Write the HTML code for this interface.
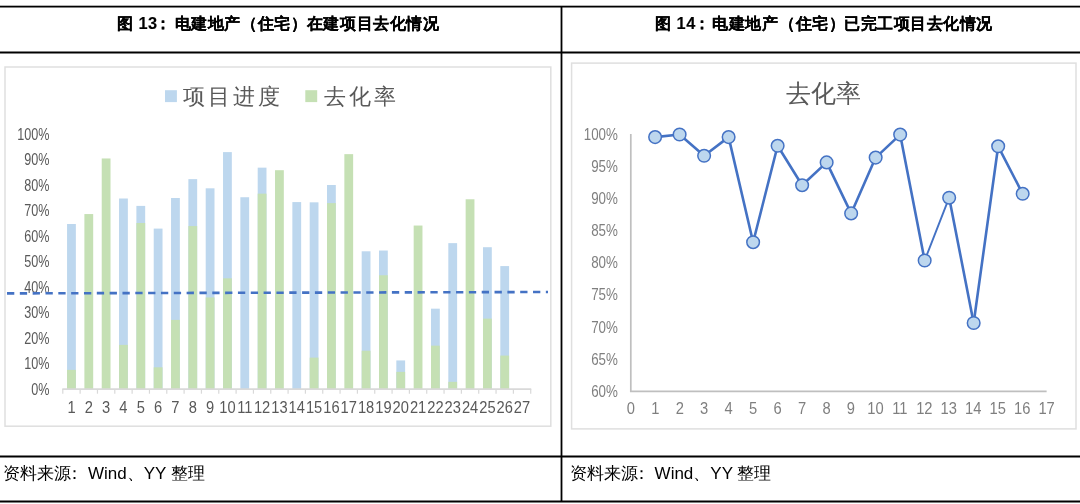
<!DOCTYPE html>
<html><head><meta charset="utf-8"><style>
html,body{margin:0;padding:0;background:#fff;}
body{width:1080px;height:504px;position:relative;overflow:hidden;font-family:"Liberation Sans", sans-serif;}
.abs{position:absolute;}
.hl{position:absolute;left:0;width:1080px;background:#000;}
.vl{position:absolute;background:#000;}
.ttl{position:absolute;top:11.6px;-webkit-text-stroke:0.12px #000;font-weight:bold;font-size:16.4px;letter-spacing:0.55px;color:#000;white-space:nowrap;line-height:22px;}
.cl{margin-left:3px;margin-right:10px;}
.src{position:absolute;top:462px;font-size:17px;color:#000;white-space:nowrap;line-height:24px;}
svg text{font-family:"Liberation Sans", sans-serif;filter:grayscale(1);}
.ttl,.src{filter:grayscale(1);}
.lt{font-size:15.8px;fill:#595959;}
.ra{font-size:15.3px;fill:#7f7f7f;}
.lg{font-size:22px;fill:#595959;letter-spacing:3px;font-weight:300;}
.rt{font-size:25px;fill:#595959;font-weight:300;}
</style></head><body>
<svg class="abs" style="left:0;top:0" width="1080" height="504" viewBox="0 0 1080 504">
<rect x="0" y="5.7" width="1080" height="1.8" fill="#000"/>
<rect x="0" y="51.5" width="1080" height="2" fill="#000"/>
<rect x="0" y="455.5" width="1080" height="2" fill="#000"/>
<rect x="0" y="500.5" width="1080" height="2" fill="#000"/>
<rect x="560.6" y="6" width="1.8" height="495.5" fill="#000"/>
</svg>
<div class="ttl" style="left:116.9px">图</div><div class="ttl" style="left:138.4px">13</div><div class="ttl" style="left:154.7px">：</div><div class="ttl" style="left:174.5px">电建地产</div><div class="ttl" style="left:241.4px">（住宅）</div><div class="ttl" style="left:306.9px">在建项目去化情况</div>
<div class="ttl" style="left:655.3px">图</div><div class="ttl" style="left:676.5px">14</div><div class="ttl" style="left:693.8px">：</div><div class="ttl" style="left:712.3px">电建地产</div><div class="ttl" style="left:779.4px">（住宅）</div><div class="ttl" style="left:844px">已完工项目去化情况</div>
<svg class="abs" style="left:0;top:0" width="561" height="504" viewBox="0 0 561 504">
<rect x="5" y="67" width="545.8" height="359.2" fill="none" stroke="#dfdfdf" stroke-width="1.5"/>
<rect x="67.06" y="224.00" width="8.8" height="165.10" fill="#bdd7ee"/>
<rect x="67.06" y="369.87" width="8.8" height="19.24" fill="#c5e0b4"/>
<rect x="84.39" y="214.06" width="8.8" height="175.04" fill="#c5e0b4"/>
<rect x="101.72" y="158.47" width="8.8" height="230.63" fill="#c5e0b4"/>
<rect x="119.05" y="198.50" width="8.8" height="190.60" fill="#bdd7ee"/>
<rect x="119.05" y="344.88" width="8.8" height="44.23" fill="#c5e0b4"/>
<rect x="136.38" y="205.90" width="8.8" height="183.20" fill="#bdd7ee"/>
<rect x="136.38" y="222.99" width="8.8" height="166.12" fill="#c5e0b4"/>
<rect x="153.72" y="228.59" width="8.8" height="160.51" fill="#bdd7ee"/>
<rect x="153.72" y="367.31" width="8.8" height="21.79" fill="#c5e0b4"/>
<rect x="171.04" y="198.00" width="8.8" height="191.10" fill="#bdd7ee"/>
<rect x="171.04" y="319.88" width="8.8" height="69.22" fill="#c5e0b4"/>
<rect x="188.37" y="179.13" width="8.8" height="209.97" fill="#bdd7ee"/>
<rect x="188.37" y="226.05" width="8.8" height="163.06" fill="#c5e0b4"/>
<rect x="205.70" y="188.31" width="8.8" height="200.80" fill="#bdd7ee"/>
<rect x="205.70" y="297.44" width="8.8" height="91.66" fill="#c5e0b4"/>
<rect x="223.03" y="152.10" width="8.8" height="237.00" fill="#bdd7ee"/>
<rect x="223.03" y="278.32" width="8.8" height="110.78" fill="#c5e0b4"/>
<rect x="240.36" y="197.23" width="8.8" height="191.87" fill="#bdd7ee"/>
<rect x="257.69" y="167.65" width="8.8" height="221.45" fill="#bdd7ee"/>
<rect x="257.69" y="193.66" width="8.8" height="195.44" fill="#c5e0b4"/>
<rect x="275.02" y="170.20" width="8.8" height="218.90" fill="#c5e0b4"/>
<rect x="292.36" y="202.08" width="8.8" height="187.03" fill="#bdd7ee"/>
<rect x="309.69" y="202.33" width="8.8" height="186.77" fill="#bdd7ee"/>
<rect x="309.69" y="357.62" width="8.8" height="31.48" fill="#c5e0b4"/>
<rect x="327.01" y="184.99" width="8.8" height="204.11" fill="#bdd7ee"/>
<rect x="327.01" y="203.10" width="8.8" height="186.00" fill="#c5e0b4"/>
<rect x="344.35" y="154.14" width="8.8" height="234.97" fill="#c5e0b4"/>
<rect x="361.68" y="251.29" width="8.8" height="137.81" fill="#bdd7ee"/>
<rect x="361.68" y="350.74" width="8.8" height="38.36" fill="#c5e0b4"/>
<rect x="379.00" y="250.53" width="8.8" height="138.58" fill="#bdd7ee"/>
<rect x="379.00" y="275.26" width="8.8" height="113.84" fill="#c5e0b4"/>
<rect x="396.33" y="360.43" width="8.8" height="28.67" fill="#bdd7ee"/>
<rect x="396.33" y="371.90" width="8.8" height="17.20" fill="#c5e0b4"/>
<rect x="413.67" y="225.54" width="8.8" height="163.56" fill="#c5e0b4"/>
<rect x="431.00" y="308.67" width="8.8" height="80.44" fill="#bdd7ee"/>
<rect x="431.00" y="345.64" width="8.8" height="43.46" fill="#c5e0b4"/>
<rect x="448.32" y="243.13" width="8.8" height="145.97" fill="#bdd7ee"/>
<rect x="448.32" y="381.85" width="8.8" height="7.25" fill="#c5e0b4"/>
<rect x="465.65" y="199.27" width="8.8" height="189.83" fill="#c5e0b4"/>
<rect x="482.99" y="247.21" width="8.8" height="141.89" fill="#bdd7ee"/>
<rect x="482.99" y="318.61" width="8.8" height="70.49" fill="#c5e0b4"/>
<rect x="500.31" y="266.08" width="8.8" height="123.02" fill="#bdd7ee"/>
<rect x="500.31" y="355.58" width="8.8" height="33.52" fill="#c5e0b4"/>
<line x1="62.3" y1="389.1" x2="531.21" y2="389.1" stroke="#d9d9d9" stroke-width="1.7"/>
<line x1="62.80" y1="389.1" x2="62.80" y2="393.70000000000005" stroke="#d9d9d9" stroke-width="1.2"/>
<line x1="80.13" y1="389.1" x2="80.13" y2="393.70000000000005" stroke="#d9d9d9" stroke-width="1.2"/>
<line x1="97.46" y1="389.1" x2="97.46" y2="393.70000000000005" stroke="#d9d9d9" stroke-width="1.2"/>
<line x1="114.79" y1="389.1" x2="114.79" y2="393.70000000000005" stroke="#d9d9d9" stroke-width="1.2"/>
<line x1="132.12" y1="389.1" x2="132.12" y2="393.70000000000005" stroke="#d9d9d9" stroke-width="1.2"/>
<line x1="149.45" y1="389.1" x2="149.45" y2="393.70000000000005" stroke="#d9d9d9" stroke-width="1.2"/>
<line x1="166.78" y1="389.1" x2="166.78" y2="393.70000000000005" stroke="#d9d9d9" stroke-width="1.2"/>
<line x1="184.11" y1="389.1" x2="184.11" y2="393.70000000000005" stroke="#d9d9d9" stroke-width="1.2"/>
<line x1="201.44" y1="389.1" x2="201.44" y2="393.70000000000005" stroke="#d9d9d9" stroke-width="1.2"/>
<line x1="218.77" y1="389.1" x2="218.77" y2="393.70000000000005" stroke="#d9d9d9" stroke-width="1.2"/>
<line x1="236.10" y1="389.1" x2="236.10" y2="393.70000000000005" stroke="#d9d9d9" stroke-width="1.2"/>
<line x1="253.43" y1="389.1" x2="253.43" y2="393.70000000000005" stroke="#d9d9d9" stroke-width="1.2"/>
<line x1="270.76" y1="389.1" x2="270.76" y2="393.70000000000005" stroke="#d9d9d9" stroke-width="1.2"/>
<line x1="288.09" y1="389.1" x2="288.09" y2="393.70000000000005" stroke="#d9d9d9" stroke-width="1.2"/>
<line x1="305.42" y1="389.1" x2="305.42" y2="393.70000000000005" stroke="#d9d9d9" stroke-width="1.2"/>
<line x1="322.75" y1="389.1" x2="322.75" y2="393.70000000000005" stroke="#d9d9d9" stroke-width="1.2"/>
<line x1="340.08" y1="389.1" x2="340.08" y2="393.70000000000005" stroke="#d9d9d9" stroke-width="1.2"/>
<line x1="357.41" y1="389.1" x2="357.41" y2="393.70000000000005" stroke="#d9d9d9" stroke-width="1.2"/>
<line x1="374.74" y1="389.1" x2="374.74" y2="393.70000000000005" stroke="#d9d9d9" stroke-width="1.2"/>
<line x1="392.07" y1="389.1" x2="392.07" y2="393.70000000000005" stroke="#d9d9d9" stroke-width="1.2"/>
<line x1="409.40" y1="389.1" x2="409.40" y2="393.70000000000005" stroke="#d9d9d9" stroke-width="1.2"/>
<line x1="426.73" y1="389.1" x2="426.73" y2="393.70000000000005" stroke="#d9d9d9" stroke-width="1.2"/>
<line x1="444.06" y1="389.1" x2="444.06" y2="393.70000000000005" stroke="#d9d9d9" stroke-width="1.2"/>
<line x1="461.39" y1="389.1" x2="461.39" y2="393.70000000000005" stroke="#d9d9d9" stroke-width="1.2"/>
<line x1="478.72" y1="389.1" x2="478.72" y2="393.70000000000005" stroke="#d9d9d9" stroke-width="1.2"/>
<line x1="496.05" y1="389.1" x2="496.05" y2="393.70000000000005" stroke="#d9d9d9" stroke-width="1.2"/>
<line x1="513.38" y1="389.1" x2="513.38" y2="393.70000000000005" stroke="#d9d9d9" stroke-width="1.2"/>
<line x1="530.71" y1="389.1" x2="530.71" y2="393.70000000000005" stroke="#d9d9d9" stroke-width="1.2"/>
<text transform="translate(49.6 394.90) scale(0.8 1)" text-anchor="end" class="lt">0%</text>
<text transform="translate(49.6 369.40) scale(0.8 1)" text-anchor="end" class="lt">10%</text>
<text transform="translate(49.6 343.90) scale(0.8 1)" text-anchor="end" class="lt">20%</text>
<text transform="translate(49.6 318.40) scale(0.8 1)" text-anchor="end" class="lt">30%</text>
<text transform="translate(49.6 292.90) scale(0.8 1)" text-anchor="end" class="lt">40%</text>
<text transform="translate(49.6 267.40) scale(0.8 1)" text-anchor="end" class="lt">50%</text>
<text transform="translate(49.6 241.90) scale(0.8 1)" text-anchor="end" class="lt">60%</text>
<text transform="translate(49.6 216.40) scale(0.8 1)" text-anchor="end" class="lt">70%</text>
<text transform="translate(49.6 190.90) scale(0.8 1)" text-anchor="end" class="lt">80%</text>
<text transform="translate(49.6 165.40) scale(0.8 1)" text-anchor="end" class="lt">90%</text>
<text transform="translate(49.6 139.90) scale(0.8 1)" text-anchor="end" class="lt">100%</text>
<text transform="translate(71.47 412.5) scale(0.93 1)" text-anchor="middle" class="lt">1</text>
<text transform="translate(88.79 412.5) scale(0.93 1)" text-anchor="middle" class="lt">2</text>
<text transform="translate(106.12 412.5) scale(0.93 1)" text-anchor="middle" class="lt">3</text>
<text transform="translate(123.45 412.5) scale(0.93 1)" text-anchor="middle" class="lt">4</text>
<text transform="translate(140.78 412.5) scale(0.93 1)" text-anchor="middle" class="lt">5</text>
<text transform="translate(158.12 412.5) scale(0.93 1)" text-anchor="middle" class="lt">6</text>
<text transform="translate(175.44 412.5) scale(0.93 1)" text-anchor="middle" class="lt">7</text>
<text transform="translate(192.77 412.5) scale(0.93 1)" text-anchor="middle" class="lt">8</text>
<text transform="translate(210.10 412.5) scale(0.93 1)" text-anchor="middle" class="lt">9</text>
<text transform="translate(227.44 412.5) scale(0.93 1)" text-anchor="middle" class="lt">10</text>
<text transform="translate(244.76 412.5) scale(0.93 1)" text-anchor="middle" class="lt">11</text>
<text transform="translate(262.09 412.5) scale(0.93 1)" text-anchor="middle" class="lt">12</text>
<text transform="translate(279.42 412.5) scale(0.93 1)" text-anchor="middle" class="lt">13</text>
<text transform="translate(296.75 412.5) scale(0.93 1)" text-anchor="middle" class="lt">14</text>
<text transform="translate(314.08 412.5) scale(0.93 1)" text-anchor="middle" class="lt">15</text>
<text transform="translate(331.41 412.5) scale(0.93 1)" text-anchor="middle" class="lt">16</text>
<text transform="translate(348.75 412.5) scale(0.93 1)" text-anchor="middle" class="lt">17</text>
<text transform="translate(366.07 412.5) scale(0.93 1)" text-anchor="middle" class="lt">18</text>
<text transform="translate(383.40 412.5) scale(0.93 1)" text-anchor="middle" class="lt">19</text>
<text transform="translate(400.73 412.5) scale(0.93 1)" text-anchor="middle" class="lt">20</text>
<text transform="translate(418.06 412.5) scale(0.93 1)" text-anchor="middle" class="lt">21</text>
<text transform="translate(435.39 412.5) scale(0.93 1)" text-anchor="middle" class="lt">22</text>
<text transform="translate(452.72 412.5) scale(0.93 1)" text-anchor="middle" class="lt">23</text>
<text transform="translate(470.05 412.5) scale(0.93 1)" text-anchor="middle" class="lt">24</text>
<text transform="translate(487.38 412.5) scale(0.93 1)" text-anchor="middle" class="lt">25</text>
<text transform="translate(504.71 412.5) scale(0.93 1)" text-anchor="middle" class="lt">26</text>
<text transform="translate(522.04 412.5) scale(0.93 1)" text-anchor="middle" class="lt">27</text>
<line x1="7" y1="293.4" x2="548" y2="292.0" stroke="#4472c4" stroke-width="2.6" stroke-dasharray="7.3 5.53"/>
<rect x="165" y="90.2" width="11.9" height="11.9" fill="#bdd7ee"/>
<rect x="305.3" y="90.2" width="11.9" height="11.9" fill="#c5e0b4"/>
<text x="183" y="104" class="lg">项目进度</text>
<text x="323.5" y="104" class="lg">去化率</text>
</svg>
<svg class="abs" style="left:0;top:0" width="1080" height="504" viewBox="0 0 1080 504">
<rect x="571.6" y="63.1" width="504.4" height="365.8" fill="none" stroke="#dfdfdf" stroke-width="1.5"/>
<text x="823.2" y="102" text-anchor="middle" class="rt">去化率</text>
<line x1="630.8" y1="134.1" x2="630.8" y2="391.3" stroke="#bfbfbf" stroke-width="1.7"/>
<line x1="629.9499999999999" y1="391.3" x2="1046.62" y2="391.3" stroke="#bfbfbf" stroke-width="1.7"/>
<text transform="translate(617.9 139.90) scale(0.82 1)" text-anchor="end" class="ra" style="font-size:16.3px">100%</text>
<text transform="translate(617.9 172.00) scale(0.82 1)" text-anchor="end" class="ra" style="font-size:16.3px">95%</text>
<text transform="translate(617.9 204.10) scale(0.82 1)" text-anchor="end" class="ra" style="font-size:16.3px">90%</text>
<text transform="translate(617.9 236.20) scale(0.82 1)" text-anchor="end" class="ra" style="font-size:16.3px">85%</text>
<text transform="translate(617.9 268.30) scale(0.82 1)" text-anchor="end" class="ra" style="font-size:16.3px">80%</text>
<text transform="translate(617.9 300.40) scale(0.82 1)" text-anchor="end" class="ra" style="font-size:16.3px">75%</text>
<text transform="translate(617.9 332.50) scale(0.82 1)" text-anchor="end" class="ra" style="font-size:16.3px">70%</text>
<text transform="translate(617.9 364.60) scale(0.82 1)" text-anchor="end" class="ra" style="font-size:16.3px">65%</text>
<text transform="translate(617.9 396.70) scale(0.82 1)" text-anchor="end" class="ra" style="font-size:16.3px">60%</text>
<text transform="translate(630.80 414.1) scale(0.92 1)" text-anchor="middle" class="ra" style="font-size:16px">0</text>
<text transform="translate(655.26 414.1) scale(0.92 1)" text-anchor="middle" class="ra" style="font-size:16px">1</text>
<text transform="translate(679.72 414.1) scale(0.92 1)" text-anchor="middle" class="ra" style="font-size:16px">2</text>
<text transform="translate(704.18 414.1) scale(0.92 1)" text-anchor="middle" class="ra" style="font-size:16px">3</text>
<text transform="translate(728.64 414.1) scale(0.92 1)" text-anchor="middle" class="ra" style="font-size:16px">4</text>
<text transform="translate(753.10 414.1) scale(0.92 1)" text-anchor="middle" class="ra" style="font-size:16px">5</text>
<text transform="translate(777.56 414.1) scale(0.92 1)" text-anchor="middle" class="ra" style="font-size:16px">6</text>
<text transform="translate(802.02 414.1) scale(0.92 1)" text-anchor="middle" class="ra" style="font-size:16px">7</text>
<text transform="translate(826.48 414.1) scale(0.92 1)" text-anchor="middle" class="ra" style="font-size:16px">8</text>
<text transform="translate(850.94 414.1) scale(0.92 1)" text-anchor="middle" class="ra" style="font-size:16px">9</text>
<text transform="translate(875.40 414.1) scale(0.92 1)" text-anchor="middle" class="ra" style="font-size:16px">10</text>
<text transform="translate(899.86 414.1) scale(0.92 1)" text-anchor="middle" class="ra" style="font-size:16px">11</text>
<text transform="translate(924.32 414.1) scale(0.92 1)" text-anchor="middle" class="ra" style="font-size:16px">12</text>
<text transform="translate(948.78 414.1) scale(0.92 1)" text-anchor="middle" class="ra" style="font-size:16px">13</text>
<text transform="translate(973.24 414.1) scale(0.92 1)" text-anchor="middle" class="ra" style="font-size:16px">14</text>
<text transform="translate(997.70 414.1) scale(0.92 1)" text-anchor="middle" class="ra" style="font-size:16px">15</text>
<text transform="translate(1022.16 414.1) scale(0.92 1)" text-anchor="middle" class="ra" style="font-size:16px">16</text>
<text transform="translate(1046.62 414.1) scale(0.92 1)" text-anchor="middle" class="ra" style="font-size:16px">17</text>
<line x1="655.11" y1="137.10" x2="679.61" y2="134.50" stroke="#4472c4" stroke-width="2.6" stroke-linecap="round"/>
<line x1="679.61" y1="134.50" x2="704.12" y2="155.80" stroke="#4472c4" stroke-width="2.6" stroke-linecap="round"/>
<line x1="704.12" y1="155.80" x2="728.62" y2="137.10" stroke="#4472c4" stroke-width="2.6" stroke-linecap="round"/>
<line x1="728.62" y1="137.10" x2="753.12" y2="242.20" stroke="#4472c4" stroke-width="2.6" stroke-linecap="round"/>
<line x1="753.12" y1="242.20" x2="777.63" y2="145.80" stroke="#4472c4" stroke-width="2.6" stroke-linecap="round"/>
<line x1="777.63" y1="145.80" x2="802.13" y2="185.20" stroke="#4472c4" stroke-width="2.6" stroke-linecap="round"/>
<line x1="802.13" y1="185.20" x2="826.64" y2="162.40" stroke="#4472c4" stroke-width="2.6" stroke-linecap="round"/>
<line x1="826.64" y1="162.40" x2="851.14" y2="213.40" stroke="#4472c4" stroke-width="2.6" stroke-linecap="round"/>
<line x1="851.14" y1="213.40" x2="875.65" y2="157.60" stroke="#4472c4" stroke-width="2.6" stroke-linecap="round"/>
<line x1="875.65" y1="157.60" x2="900.15" y2="134.60" stroke="#4472c4" stroke-width="2.6" stroke-linecap="round"/>
<line x1="900.15" y1="134.60" x2="924.66" y2="260.50" stroke="#4472c4" stroke-width="2.6" stroke-linecap="round"/>
<line x1="924.66" y1="260.50" x2="949.16" y2="197.70" stroke="#4472c4" stroke-width="1.9" stroke-linecap="round"/>
<line x1="949.16" y1="197.70" x2="973.67" y2="323.00" stroke="#4472c4" stroke-width="2.6" stroke-linecap="round"/>
<line x1="973.67" y1="323.00" x2="998.17" y2="146.30" stroke="#4472c4" stroke-width="2.6" stroke-linecap="round"/>
<line x1="998.17" y1="146.30" x2="1022.68" y2="193.80" stroke="#4472c4" stroke-width="2.6" stroke-linecap="round"/>
<circle cx="655.11" cy="137.10" r="6.3" fill="#bdd7ee" stroke="#4472c4" stroke-width="1.5"/>
<circle cx="679.61" cy="134.50" r="6.3" fill="#bdd7ee" stroke="#4472c4" stroke-width="1.5"/>
<circle cx="704.12" cy="155.80" r="6.3" fill="#bdd7ee" stroke="#4472c4" stroke-width="1.5"/>
<circle cx="728.62" cy="137.10" r="6.3" fill="#bdd7ee" stroke="#4472c4" stroke-width="1.5"/>
<circle cx="753.12" cy="242.20" r="6.3" fill="#bdd7ee" stroke="#4472c4" stroke-width="1.5"/>
<circle cx="777.63" cy="145.80" r="6.3" fill="#bdd7ee" stroke="#4472c4" stroke-width="1.5"/>
<circle cx="802.13" cy="185.20" r="6.3" fill="#bdd7ee" stroke="#4472c4" stroke-width="1.5"/>
<circle cx="826.64" cy="162.40" r="6.3" fill="#bdd7ee" stroke="#4472c4" stroke-width="1.5"/>
<circle cx="851.14" cy="213.40" r="6.3" fill="#bdd7ee" stroke="#4472c4" stroke-width="1.5"/>
<circle cx="875.65" cy="157.60" r="6.3" fill="#bdd7ee" stroke="#4472c4" stroke-width="1.5"/>
<circle cx="900.15" cy="134.60" r="6.3" fill="#bdd7ee" stroke="#4472c4" stroke-width="1.5"/>
<circle cx="924.66" cy="260.50" r="6.3" fill="#bdd7ee" stroke="#4472c4" stroke-width="1.5"/>
<circle cx="949.16" cy="197.70" r="6.3" fill="#bdd7ee" stroke="#4472c4" stroke-width="1.5"/>
<circle cx="973.67" cy="323.00" r="6.3" fill="#bdd7ee" stroke="#4472c4" stroke-width="1.5"/>
<circle cx="998.17" cy="146.30" r="6.3" fill="#bdd7ee" stroke="#4472c4" stroke-width="1.5"/>
<circle cx="1022.68" cy="193.80" r="6.3" fill="#bdd7ee" stroke="#4472c4" stroke-width="1.5"/>
</svg>
<div class="src" style="left:3px">资料来源<span style="position:relative;left:-5px">：</span>Wind、YY 整理</div>
<div class="src" style="left:569.6px">资料来源<span style="position:relative;left:-5px">：</span>Wind、YY 整理</div>
</body></html>
